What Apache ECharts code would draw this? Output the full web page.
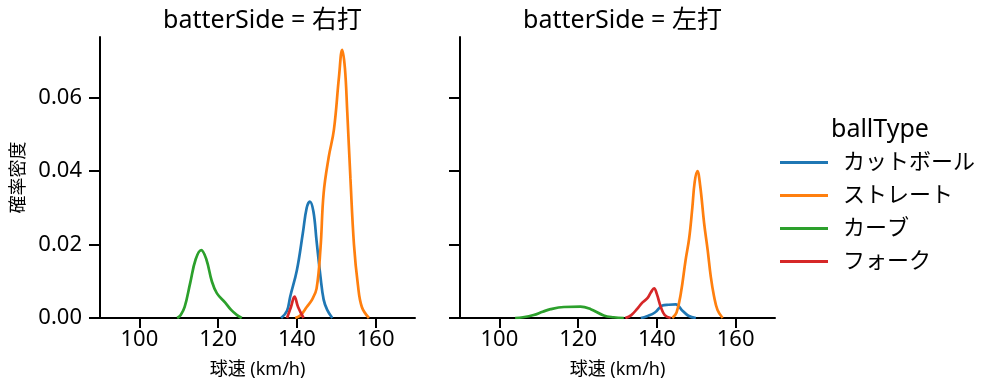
<!DOCTYPE html>
<html>
<head>
<meta charset="utf-8">
<script src="https://cdn.jsdelivr.net/npm/echarts@6/dist/echarts.min.js"></script>
<style>
html,body{margin:0;padding:0;background:#fff;}
#chart{width:997px;height:391px;}
</style>
</head>
<body>
<div id="chart"></div>
<script>
// ---- data ----
var ballTypes = ["カットボール", "ストレート", "カーブ", "フォーク"];
var panelTitles = ["batterSide = 右打", "batterSide = 左打"];
var xTicks = [100, 120, 140, 160];
var yTicks = [0, 0.02, 0.04, 0.06];
var yTickLabels = ["0.00", "0.02", "0.04", "0.06"];
var xLabel = "球速 (km/h)";
var yLabel = "確率密度";

// 右打 panel: [speed, density]
var rightCut = [[136,0],[137.5,0.002],[138.3,0.0058],[140,0.013],[141.5,0.023],[142.5,0.030],[143.3,0.0317],[144.2,0.029],[145,0.021],[146,0.0112],[146.8,0.005],[147.7,0.0022],[149,0]];
var rightStraight = [[139.6,0],[141,0.0008],[142.5,0.003],[143.9,0.0051],[145,0.008],[146,0.019],[146.8,0.034],[148.1,0.0439],[149.4,0.0512],[150.7,0.0657],[151.5,0.073],[152.2,0.068],[152.8,0.056],[153.6,0.038],[154.5,0.020],[155.5,0.009],[156.5,0.003],[158.3,0]];
var rightCurve = [[109.6,0],[110.5,0.0008],[111.5,0.003],[112.9,0.0095],[114.3,0.016],[115.7,0.0185],[117,0.016],[118.4,0.010],[119.7,0.0067],[121.8,0.0042],[123.3,0.0022],[124.8,0.0008],[126,0]];
var rightFork = [[137.5,0],[138.5,0.003],[139.4,0.0058],[140.3,0.003],[141.7,0]];

// 左打 panel: [speed, density]
var leftCut = [[135.9,0],[137.5,0.0005],[139.5,0.0015],[141.4,0.0034],[143,0.0036],[144.8,0.0037],[146.5,0.002],[148,0.0006],[149.9,0]];
var leftStraight = [[143.9,0],[145,0.0015],[146.1,0.0068],[147.3,0.0158],[148.2,0.0217],[149,0.030],[149.6,0.037],[150.3,0.040],[151,0.036],[152,0.0258],[152.9,0.0185],[153.7,0.0112],[154.5,0.006],[155.4,0.0022],[156.7,0]];
var leftCurve = [[104,0],[106,0.0002],[108.7,0.0008],[111,0.0017],[113,0.0024],[116.4,0.003],[120.6,0.0031],[123.2,0.0024],[126.5,0.0007],[129,0.0002],[131.6,0]];
var leftFork = [[132,0],[133.5,0.0008],[135,0.0025],[136.3,0.0042],[137.6,0.0054],[138.5,0.007],[139.3,0.0081],[140,0.0065],[141,0.003],[142,0.0008],[143.5,0]];

var colors = ["#1f77b4", "#ff7f0e", "#2ca02c", "#d62728"];
var panelData = [
  [rightCut, rightStraight, rightCurve, rightFork],
  [leftCut, leftStraight, leftCurve, leftFork]
];

// ---- chart ----
var FONT = "'Noto Sans', 'Noto Sans CJK JP', sans-serif";
var chart = echarts.init(document.getElementById('chart'), null, {renderer: 'canvas'});

var grids = [
  {left: 100, top: 37, width: 315, height: 281},
  {left: 460, top: 37, width: 315, height: 281}
];

var xAxes = [], yAxes = [], series = [], titles = [];
grids.forEach(function (g, i) {
  xAxes.push({
    type: 'value', gridIndex: i, min: 90, max: 170,
    name: xLabel, nameLocation: 'middle', nameGap: 43,
    nameTextStyle: {fontFamily: FONT, fontSize: 18, color: '#000'},
    axisLine: {show: true, lineStyle: {color: '#000', width: 2}},
    axisTick: {show: true, length: 10, lineStyle: {color: '#000', width: 2}, customValues: xTicks},
    axisLabel: {show: true, fontFamily: FONT, fontSize: 22, color: '#000', margin: 11, customValues: xTicks},
    splitLine: {show: false}
  });
  yAxes.push({
    type: 'value', gridIndex: i, min: 0, max: 0.0765,
    name: i === 0 ? yLabel : '', nameLocation: 'middle', nameGap: 72, nameRotate: 90,
    nameTextStyle: {fontFamily: FONT, fontSize: 18, color: '#000'},
    axisLine: {show: true, lineStyle: {color: '#000', width: 2}},
    axisTick: {show: true, length: 11, lineStyle: {color: '#000', width: 2}, customValues: yTicks},
    axisLabel: {show: i === 0, fontFamily: FONT, fontSize: 22, color: '#000', margin: 18,
      customValues: yTicks,
      formatter: function (v) { var k = yTicks.indexOf(v); return k >= 0 ? yTickLabels[k] : ''; }},
    splitLine: {show: false}
  });
  titles.push({
    text: panelTitles[i], left: g.left + g.width / 2, top: 3, textAlign: 'center',
    textStyle: {fontFamily: FONT, fontSize: 25, fontWeight: 'normal', color: '#000'}
  });
  panelData[i].forEach(function (d, j) {
    series.push({
      type: 'line', name: ballTypes[j], xAxisIndex: i, yAxisIndex: i,
      data: d, smooth: 0.4, showSymbol: false, symbol: 'none',
      lineStyle: {color: colors[j], width: 2.7}, itemStyle: {color: colors[j]},
      z: 2 + j
    });
  });
});

titles.push({
  text: 'ballType', left: 826, top: 112,
  textStyle: {fontFamily: FONT, fontSize: 25, fontWeight: 'normal', color: '#000'}
});

chart.setOption({
  animation: false,
  backgroundColor: '#fff',
  color: colors,
  title: titles,
  grid: grids,
  xAxis: xAxes,
  yAxis: yAxes,
  legend: {
    data: ballTypes, orient: 'vertical', left: 775, top: 145,
    icon: 'rect', itemWidth: 48, itemHeight: 3, itemGap: 8,
    textStyle: {fontFamily: FONT, fontSize: 22, color: '#000', padding: [0, 0, 0, 10], lineHeight: 25},
    selectedMode: false
  },
  series: series
});
</script>
</body>
</html>
